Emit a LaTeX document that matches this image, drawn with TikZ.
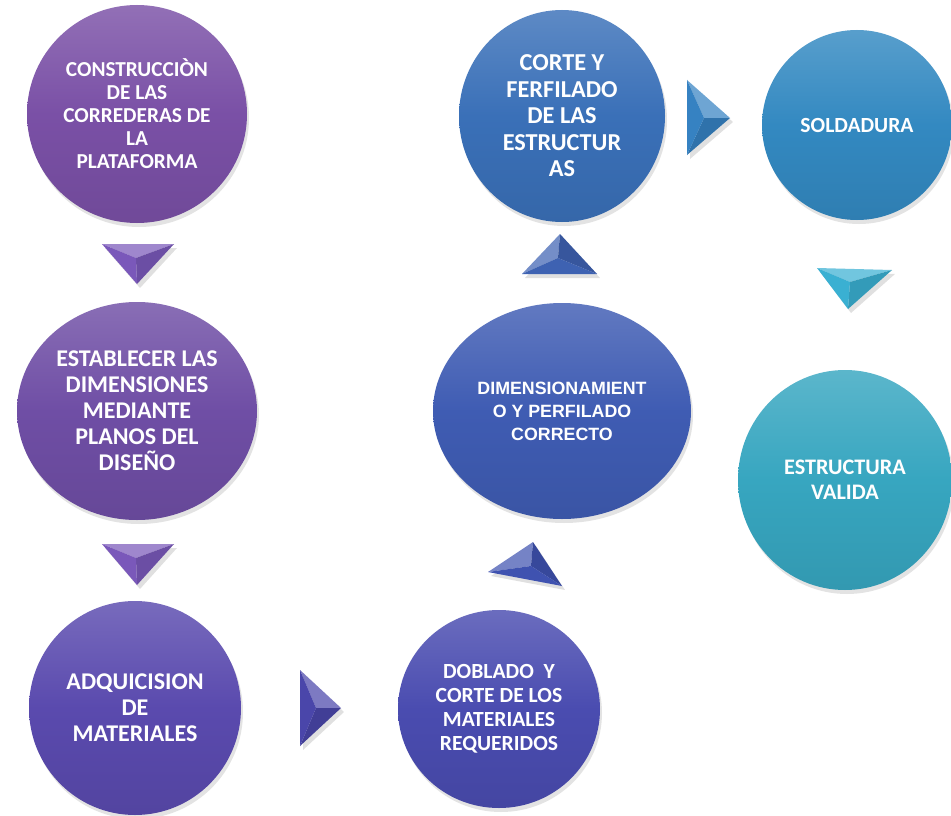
\documentclass[tikz,border=0pt]{standalone}
\usepackage{fontspec}
\setmainfont{Carlito}
\newfontfamily\arialb{Liberation Sans}
\usetikzlibrary{shapes.geometric,shadows}
\definecolor{cA}{HTML}{7A50A6}
\definecolor{cB}{HTML}{6F4EA5}
\definecolor{cC}{HTML}{5A4AAE}
\definecolor{cD}{HTML}{4A4CB0}
\definecolor{cE}{HTML}{3F5CB3}
\definecolor{cF}{HTML}{3A70B8}
\definecolor{cG}{HTML}{3389C1}
\definecolor{cH}{HTML}{37A6C0}
\definecolor{tA}{HTML}{7A58BA}
\definecolor{tC}{HTML}{4A46AA}
\definecolor{tD}{HTML}{3F52B0}
\definecolor{tE}{HTML}{3E62B2}
\definecolor{tF}{HTML}{3682C2}
\definecolor{tH}{HTML}{3AB0D2}
\tikzset{
  bub/.style={ellipse, inner sep=0pt, text=white, align=center,
    top color=#1!82!white, bottom color=#1!92!black, middle color=#1,
    drop shadow={opacity=0.22, shadow xshift=2pt, shadow yshift=-4pt}},
}
\newcommand{\pyr}[5]{%
  \fill[black, opacity=0.12] ([shift={(3,4)}]#1) -- ([shift={(3,4)}]#2) -- ([shift={(3,4)}]#3) -- cycle;
  \fill[#5!72!white] (#1) -- (#2) -- (#4) -- cycle;
  \fill[#5!88!black] (#2) -- (#3) -- (#4) -- cycle;
  \fill[#5] (#3) -- (#1) -- (#4) -- cycle;
}
\begin{document}
\begin{tikzpicture}[x=1pt,y=-1pt]
\useasboundingbox[fill=white] (0,0) rectangle (951,816);

\node[bub=cA, minimum width=220, minimum height=218, font=\bfseries\fontsize{21.3}{23}\selectfont] (n1) at (137,114)
  {CONSTRUCCIÒN\\DE LAS\\CORREDERAS DE\\LA\\PLATAFORMA};
\node[bub=cB, minimum width=240, minimum height=218, font=\bfseries\fontsize{24}{26}\selectfont] (n2) at (137,411)
  {ESTABLECER LAS\\DIMENSIONES\\MEDIANTE\\PLANOS DEL\\DISEÑO};
\node[bub=cC, minimum width=212, minimum height=214, font=\bfseries\fontsize{24}{26}\selectfont] (n3) at (135,708)
  {ADQUICISION\\DE\\MATERIALES};
\node[bub=cD, minimum width=202, minimum height=198, font=\bfseries\fontsize{21.6}{24}\selectfont] (n4) at (499,709)
  {DOBLADO\ \ Y\\CORTE DE LOS\\MATERIALES\\REQUERIDOS};
\node[bub=cE, minimum width=258, minimum height=216, font=\arialb\bfseries\fontsize{17.8}{23}\selectfont] (n5) at (562,411)
  {DIMENSIONAMIENT\\O Y PERFILADO\\CORRECTO};
\node[bub=cF, minimum width=206, minimum height=212, font=\bfseries\fontsize{24.3}{26.5}\selectfont] (n6) at (562,116)
  {CORTE Y\\FERFILADO\\DE LAS\\ESTRUCTUR\\AS};
\node[bub=cG, minimum width=190, minimum height=190, font=\bfseries\fontsize{21.6}{23}\selectfont] (n7) at (857,125)
  {SOLDADURA};
\node[bub=cH, minimum width=214, minimum height=220, font=\bfseries\fontsize{22.2}{25}\selectfont] (n8) at (845,480)
  {ESTRUCTURA\\VALIDA};

% pyramids (arrows)
\coordinate (a1) at (102,244); \coordinate (a2) at (174,244); \coordinate (a3) at (137,284); \coordinate (ap) at (136,258);
\pyr{a1}{a2}{a3}{ap}{tA}
\coordinate (b1) at (102,544); \coordinate (b2) at (174,544); \coordinate (b3) at (137,585); \coordinate (bp) at (136,558);
\pyr{b1}{b2}{b3}{bp}{tA}
\coordinate (c1) at (300,670); \coordinate (c2) at (341,708); \coordinate (c3) at (300,746); \coordinate (cp) at (316,708);
\pyr{c1}{c2}{c3}{cp}{tC}
\coordinate (d1) at (488,572); \coordinate (d2) at (533,542); \coordinate (d3) at (562,586); \coordinate (dp) at (531,566);
\pyr{d1}{d2}{d3}{dp}{tD}
\coordinate (e1) at (522,274); \coordinate (e2) at (560,234); \coordinate (e3) at (597,274); \coordinate (ep) at (558,258);
\pyr{e1}{e2}{e3}{ep}{tE}
\coordinate (f1) at (687,80); \coordinate (f2) at (730,118); \coordinate (f3) at (687,155); \coordinate (fp) at (704,118);
\pyr{f1}{f2}{f3}{fp}{tF}
\coordinate (g1) at (817,268); \coordinate (g2) at (892,270); \coordinate (g3) at (848,309); \coordinate (gp) at (850,282);
\pyr{g1}{g2}{g3}{gp}{tH}
\end{tikzpicture}
\end{document}
